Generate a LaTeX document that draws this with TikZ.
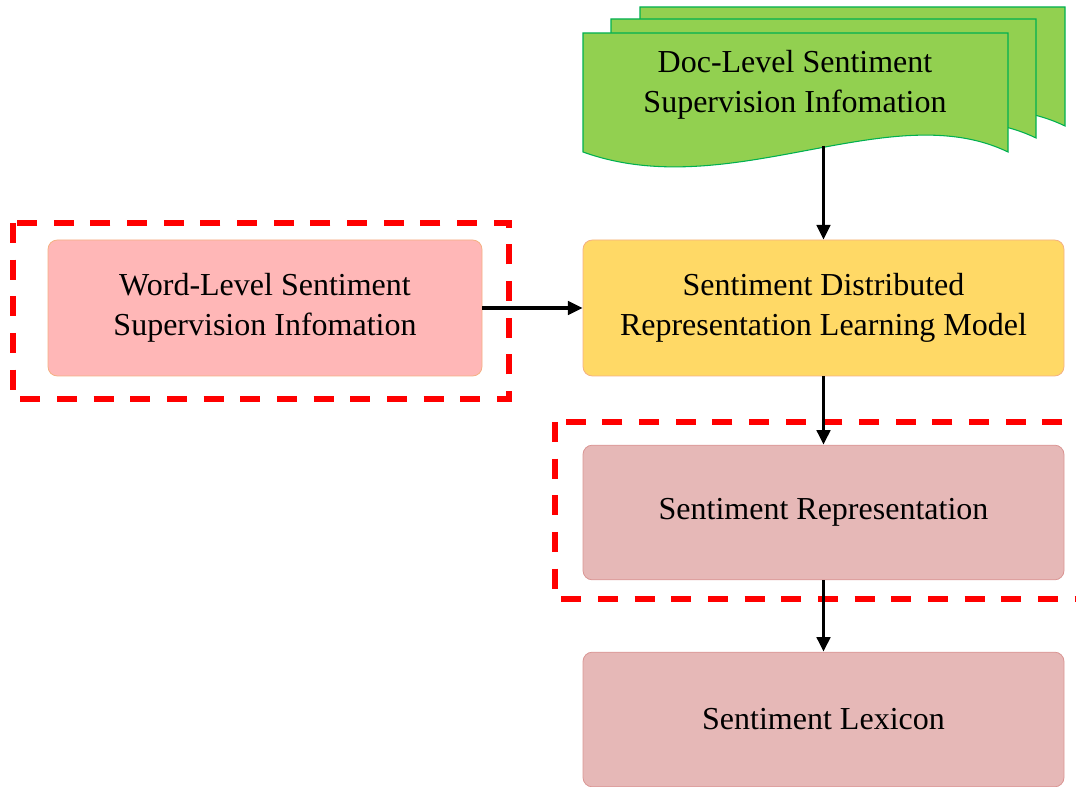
\documentclass[tikz,border=0pt]{standalone}
\usepackage{fontspec}
\setmainfont{Liberation Serif}
\usetikzlibrary{arrows.meta,positioning}
\definecolor{docgreen}{HTML}{92D050}
\definecolor{docline}{HTML}{00B050}
\definecolor{wordpink}{HTML}{FFB7B7}
\definecolor{modelyellow}{HTML}{FFD966}
\definecolor{boxline}{HTML}{F4B183}
\definecolor{reppink}{HTML}{E6B8B7}
\definecolor{repline}{HTML}{DA9694}
\tikzset{
  box/.style={rounded corners=7pt, line width=0.6pt, align=center,
    minimum height=102pt, font=\fontsize{24}{30}\selectfont},
  flow/.style={line width=2.6pt, -{Triangle[length=11pt,width=10pt]}},
  mark box/.style={draw=red, line width=3.8pt, dash pattern=on 15pt off 12.5pt}
}
\begin{document}
\begin{tikzpicture}[x=0.75pt,y=-0.75pt]
\useasboundingbox (0,0) rectangle (1076,787);
% stacked documents
\foreach \dx/\dy in {57/-26, 28/-14}
  \filldraw[fill=docgreen, draw=docline, line width=0.8pt, shift={(\dx,\dy)}]
    (583,33) -- (1008,33) -- (1008,152) .. controls (890,95) and (730,205) .. (583,152) -- cycle;
\filldraw[fill=docgreen, draw=docline, line width=0.8pt]
  (583,33) -- (1008,33) -- (1008,152) .. controls (890,95) and (730,205) .. (583,152) -- cycle;
\node[align=center, font=\fontsize{24}{30}\selectfont] (doc) at (795,85)
  {Doc-Level Sentiment\\Supervision Infomation};
\coordinate (docbot) at (823.5,146);
% boxes
\node[box, fill=wordpink, draw=boxline, minimum width=325.5pt] (word) at (265,308)
  {Word-Level Sentiment\\Supervision Infomation};
\node[box, fill=modelyellow, draw=boxline, minimum width=360.75pt] (model) at (823.5,308)
  {Sentiment Distributed\\Representation Learning Model};
\node[box, fill=reppink, draw=repline, minimum width=360.75pt, minimum height=101pt] (rep) at (823.5,512.5)
  {Sentiment Representation};
\node[box, fill=reppink, draw=repline, minimum width=360.75pt, minimum height=101pt] (lexicon) at (823.5,719.5)
  {Sentiment Lexicon};
% highlighted parts
\draw[mark box] (13,223) rectangle (509,399);
\draw[mark box] (555,422) rectangle (1090,599);
% connectors
\draw[flow] (docbot) -- (docbot |- model.north);
\draw[flow] (word) -- (model);
\draw[flow] (model) -- (rep);
\draw[flow] (rep) -- (lexicon);
\end{tikzpicture}
\end{document}
